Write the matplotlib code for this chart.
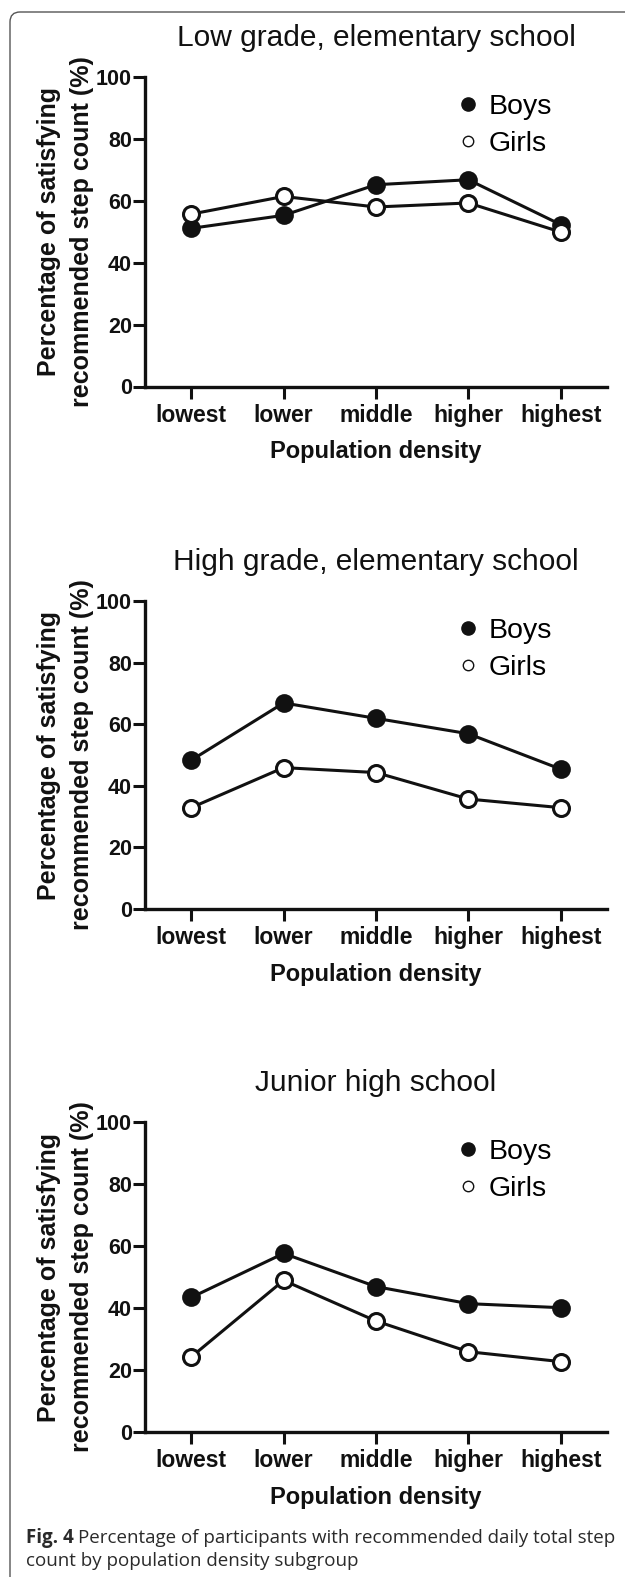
import numpy as np
import matplotlib
matplotlib.use('Agg')
import matplotlib.pyplot as plt
from matplotlib.lines import Line2D
from matplotlib.patches import FancyBboxPatch
from matplotlib.transforms import IdentityTransform

# data (% satisfying recommended step count)
categories = ['lowest', 'lower', 'middle', 'higher', 'highest']
titles = ['Low grade, elementary school', 'High grade, elementary school', 'Junior high school']
boys_low = [51.1, 55.3, 65.2, 66.8, 52.3]
girls_low = [55.7, 61.4, 58.0, 59.3, 49.9]
boys_high = [48.3, 66.9, 61.9, 56.9, 45.4]
girls_high = [32.9, 45.9, 44.3, 35.7, 32.9]
boys_jr = [43.4, 57.6, 46.9, 41.4, 40.1]
girls_jr = [24.2, 48.9, 35.8, 25.9, 22.7]
yticks = [0, 20, 40, 60, 80, 100]

W, H = 625, 1577
plt.rcParams['font.family'] = 'Liberation Sans'
fig = plt.figure(figsize=(W / 100, H / 100), dpi=100)

# rounded frame round the figure, open at right and bottom
frame = FancyBboxPatch((10, -30), 800, H - 12 + 30, boxstyle='round,pad=0,rounding_size=10',
                       transform=IdentityTransform(), fc='none', ec='#555555', lw=1.0)
fig.add_artist(frame)

# axes boxes in pixels: left, top, right, bottom
boxes = [(145, 77, 607, 386.5), (145, 601, 607, 909), (145, 1122, 607, 1432)]
series = [(boys_low, girls_low), (boys_high, girls_high), (boys_jr, girls_jr)]
x = np.arange(len(categories))

for (l, t, r, b), title, (boys, girls) in zip(boxes, titles, series):
    ax = fig.add_axes([l / W, 1 - b / H, (r - l) / W, (b - t) / H])
    ax.plot(x, boys, '-o', color='#111111', mfc='#111111', mec='#111111', ms=11.5, lw=2.2, mew=2, zorder=3, clip_on=False)
    ax.plot(x, girls, '-o', color='#111111', mfc='white', mec='#111111', ms=11.5, lw=2.2, mew=2.2, zorder=4, clip_on=False)
    ax.set_xlim(-0.5, 4.5)
    ax.set_ylim(0, 100)
    for s in ['top', 'right']:
        ax.spines[s].set_visible(False)
    for s in ['left', 'bottom']:
        ax.spines[s].set_linewidth(2.4)
        ax.spines[s].set_color('#111111')
    ax.set_xticks(x, categories, fontweight='bold', fontsize=16.5)
    ax.set_yticks(yticks, [str(v) for v in yticks], fontweight='bold', fontsize=15.5)
    ax.tick_params(axis='both', width=2.2, length=8.5, color='#111111', labelcolor='#111111')
    ax.tick_params(axis='y', pad=1)
    ax.tick_params(axis='x', pad=4)

    ax.annotate(title, (0.5, 1), xycoords='axes fraction', xytext=(0, 28), textcoords='offset points',
                ha='center', va='center', fontsize=21.5, color='#111111')
    ax.annotate('Population density', (0.5, 0), xycoords='axes fraction', xytext=(0, -47),
                textcoords='offset points', ha='center', va='center', fontsize=17, fontweight='bold', color='#111111')
    ax.text(-0.172, 0.5, 'Percentage of satisfying\nrecommended step count (%)', rotation=90,
            transform=ax.transAxes, ha='center', va='center', fontsize=18, fontweight='bold',
            linespacing=1.45, color='#111111')

    handles = [Line2D([], [], ls='none', marker='o', color='#111111', ms=9.5),
               Line2D([], [], ls='none', marker='o', mfc='white', mec='#111111', ms=7.5, mew=1)]
    ax.legend(handles, ['Boys', 'Girls'], loc='center left', bbox_to_anchor=(0.68, 0.843), frameon=False,
              fontsize=20.5, handlelength=0.6, handletextpad=0.42, labelspacing=0.38, borderpad=0, borderaxespad=0)

# caption
cap_col = '#2a2a2a'
t1 = fig.text(26 / W, 1 - 1538 / H, 'Fig. 4', fontfamily='Open Sans', fontweight='bold', fontsize=13.5,
              va='center', color=cap_col)
renderer = fig.canvas.get_renderer()
bb = t1.get_window_extent(renderer)
fig.text((bb.x1 + 4) / W, 1 - 1538 / H, 'Percentage of participants with recommended daily total step',
         fontfamily='Open Sans', fontsize=13.5, va='center', color=cap_col)
fig.text(26 / W, 1 - 1561 / H, 'count by population density subgroup', fontfamily='Open Sans', fontsize=13.5,
         va='center', color=cap_col)

fig.savefig('out.png', dpi=100)
